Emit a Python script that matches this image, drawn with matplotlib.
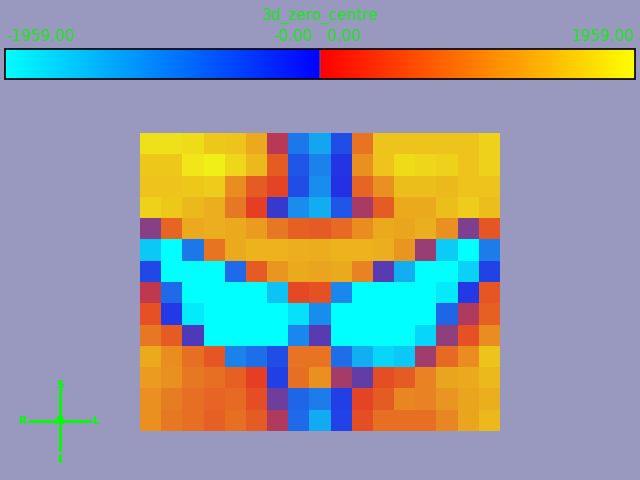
import numpy as np
import matplotlib
matplotlib.use('Agg')
import matplotlib.pyplot as plt
from matplotlib.colors import LinearSegmentedColormap, Normalize
from matplotlib.cm import ScalarMappable

plt.rcParams['font.family'] = ['DejaVu Sans']

title = '3d_zero_centre'
vmin, vmax = -1959.0, 1959.0
left_label, mid_neg_label, mid_pos_label, right_label = '-1959.00', '-0.00', '0.00', '1959.00'

# slice values (14 rows x 17 columns)
values = np.array([
    [1730, 1730, 1690, 1540, 1500, 1310, 6, -920, -1270, -580, 880, 1500, 1500, 1500, 1500, 1500, 1610],
    [1540, 1540, 1770, 1840, 1650, 1420, 690, -650, -1000, -380, 1110, 1500, 1690, 1650, 1610, 1500, 1610],
    [1500, 1500, 1540, 1570, 1080, 690, 500, -580, -1080, -350, 770, 1110, 1460, 1460, 1420, 1500, 1500],
    [1610, 1540, 1420, 1340, 920, 460, -7, -1080, -1320, -650, 4, 690, 1310, 1310, 1460, 1570, 1460],
    [0, 770, 1310, 1340, 1310, 1190, 920, 730, 690, 810, 1080, 1310, 1270, 1340, 1110, -0.5, 650],
    [-1540, -1959, -920, 880, 1310, 1380, 1380, 1340, 1320, 1380, 1380, 1340, 1150, 2, -1570, -1959, -960],
    [-540, -1959, -1959, -1959, -810, 690, 1150, 1310, 1270, 1310, 1000, -4, -1340, -1959, -1959, -1610, -500],
    [7, -810, -1959, -1959, -1959, -1959, -1500, 540, 610, -1040, -1959, -1959, -1959, -1959, -1800, -420, 650],
    [610, -420, -1800, -1959, -1959, -1959, -1959, -1730, -1080, -1959, -1959, -1959, -1959, -1959, -770, 5, 730],
    [920, 690, -5, -1959, -1959, -1959, -1959, -1040, -4, -1959, -1959, -1959, -1959, -1650, 1, 610, 1080],
    [1310, 1080, 850, 650, -1000, -850, -580, 880, 880, -850, -1340, -1650, -1540, 3, 810, 1080, 1500],
    [1190, 1110, 920, 850, 730, 460, -460, 850, 1110, 3.5, -3, 580, 690, 1000, 1270, 1310, 1420],
    [1110, 960, 850, 770, 810, 580, -2, -770, -960, -460, 500, 690, 1040, 1000, 1150, 1270, 1340],
    [1110, 920, 850, 730, 850, 690, 5, -810, -1310, -500, 580, 850, 850, 850, 1040, 1270, 1420],
])


def rgb(r, g, b):
    return (r / 255, g / 255, b / 255)


# colour bar: cyan->blue for negatives, red->yellow for positives
d = 0.002
bar_cmap = LinearSegmentedColormap.from_list('zero_centre', [
    (0.0, rgb(0, 255, 255)),
    (0.5 - d, rgb(0, 0, 255)),
    (0.5, rgb(135, 65, 135)),
    (0.5 + d, rgb(255, 0, 0)),
    (1.0, rgb(255, 255, 0)),
], N=8192)

# same map as shaded on the slice (a bit duller), purple blend right at zero
img_cmap = LinearSegmentedColormap.from_list('zero_centre_shaded', [
    (0.0, rgb(0, 255, 255)),
    (0.25, rgb(28, 128, 235)),
    (0.5 - d, rgb(40, 5, 225)),
    (0.5 - 0.999 * d, rgb(45, 55, 215)),
    (0.5, rgb(135, 65, 135)),
    (0.5 + 0.999 * d, rgb(200, 55, 70)),
    (0.5 + d, rgb(225, 5, 40)),
    (0.75, rgb(232, 128, 35)),
    (1.0, rgb(242, 255, 22)),
], N=8192)
norm = Normalize(vmin, vmax)

bg = '#9999bf'
green = '#11ee11'

fig = plt.figure(figsize=(6.4, 4.8), dpi=100, facecolor=bg)
ax = fig.add_axes([0, 0, 1, 1])
ax.set_facecolor(bg)
ax.set_xlim(0, 640)
ax.set_ylim(480, 0)
ax.axis('off')

ax.imshow(values, cmap=img_cmap, norm=norm, extent=(140, 500, 431, 133),
          interpolation='nearest', aspect='auto')

ax.text(320, 20, title, color=green, fontsize=11, ha='center', va='baseline')
ax.text(6, 41, left_label, color=green, fontsize=11, ha='left', va='baseline')
ax.text(313, 41, mid_neg_label, color=green, fontsize=11, ha='right', va='baseline')
ax.text(327, 41, mid_pos_label, color=green, fontsize=11, ha='left', va='baseline')
ax.text(634, 41, right_label, color=green, fontsize=11, ha='right', va='baseline')

# colour bar
cax = fig.add_axes([5 / 640, 1 - 79 / 480, 630 / 640, 30 / 480])
cb = fig.colorbar(ScalarMappable(norm=norm, cmap=bar_cmap), cax=cax, orientation='horizontal')
cb.set_ticks([])
cb.outline.set_edgecolor('black')
cb.outline.set_linewidth(1.2)

# orientation marker
mk = '#00ff00'
ax.plot([30, 90], [421, 421], color=mk, lw=2)
ax.plot([60, 60], [389, 450], color=mk, lw=2)
ax.plot([60, 60], [455, 461], color=mk, lw=2)
ax.text(60, 385, 'S', color=mk, fontsize=8, ha='center', va='center', fontweight='bold')
ax.text(23, 421, 'R', color=mk, fontsize=8, ha='center', va='center', fontweight='bold')
ax.text(96, 421, 'L', color=mk, fontsize=8, ha='center', va='center', fontweight='bold')
ax.text(60, 421, 'A', color=mk, fontsize=8, ha='center', va='center', fontweight='bold')
ax.text(60, 421, 'P', color=mk, fontsize=8, ha='center', va='center', fontweight='bold')

fig.savefig('out.png', dpi=100, facecolor=bg)
